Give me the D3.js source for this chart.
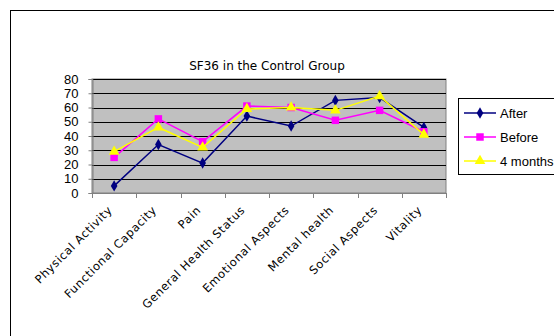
<!DOCTYPE html>
<html>
<head>
<meta charset="utf-8">
<script src="https://cdn.jsdelivr.net/npm/d3@7"></script>
<style>
  body { margin: 0; background: #fff; }
  svg { display: block; }
</style>
</head>
<body>
<svg id="chart" width="554" height="336"></svg>
<script>
// SF36 domains scored for the control group
const categories = ["Physical Activity", "Functional Capacity", "Pain", "General Health Status",
  "Emotional Aspects", "Mental health", "Social Aspects", "Vitality"];
const afterValues = [5, 34, 21, 54, 47, 65, 67, 46];
const beforeValues = [25, 52, 36, 61, 60, 51, 58, 43];
const fourMonthValues = [29, 46, 32, 59, 60, 58, 68, 41];
const yTicks = [0, 10, 20, 30, 40, 50, 60, 70, 80];
const seriesNames = ["After", "Before", "4 months"];

const series = [
  { name: seriesNames[0], values: afterValues, color: "#000080", symbol: d3.symbolDiamond, size: 38 },
  { name: seriesNames[1], values: beforeValues, color: "#ff00ff", symbol: d3.symbolSquare, size: 56 },
  { name: seriesNames[2], values: fourMonthValues, color: "#ffff00", symbol: d3.symbolTriangle, size: 50 }
];

const svg = d3.select("#chart");
const plot = { left: 92, right: 446, top: 79, bottom: 193 };

// outer chart frame
svg.append("rect")
  .attr("x", 10.5).attr("y", 10.5)
  .attr("width", 560).attr("height", 340)
  .attr("fill", "#fff").attr("stroke", "#000").attr("stroke-width", 1);

svg.append("text")
  .attr("x", 267).attr("y", 70)
  .attr("text-anchor", "middle")
  .attr("font-family", "DejaVu Sans")
  .attr("font-size", 12)
  .text("SF36 in the Control Group");

const x = d3.scaleBand().domain(categories).range([plot.left, plot.right]);
const y = d3.scaleLinear().domain([0, 80]).range([plot.bottom, plot.top]);

// plot background
svg.append("rect")
  .attr("x", plot.left).attr("y", plot.top)
  .attr("width", plot.right - plot.left).attr("height", plot.bottom - plot.top)
  .attr("fill", "#c0c0c0").attr("stroke", "#808080");

// horizontal gridlines
svg.append("g").selectAll("line").data(yTicks.filter(t => t > 0)).join("line")
  .attr("x1", plot.left).attr("x2", plot.right)
  .attr("y1", d => Math.round(y(d)) + 0.5).attr("y2", d => Math.round(y(d)) + 0.5)
  .attr("stroke", "#000").attr("stroke-width", 1);

// y axis
const yAxis = svg.append("g")
  .attr("transform", `translate(${plot.left + 0.5},0)`)
  .call(d3.axisLeft(y).tickValues(yTicks).tickSize(4).tickPadding(10));
yAxis.select(".domain").attr("stroke", "#808080");
yAxis.selectAll(".tick line").attr("stroke", "#808080");
yAxis.selectAll("text")
  .attr("font-family", "Liberation Sans, Arial")
  .attr("font-size", 13)
  .attr("fill", "#000");

// x axis: ticks at category boundaries
const bounds = d3.range(categories.length + 1).map(i => plot.left + i * x.step());
const xAxis = svg.append("g");
xAxis.append("line")
  .attr("x1", plot.left).attr("x2", plot.right)
  .attr("y1", plot.bottom + 0.5).attr("y2", plot.bottom + 0.5)
  .attr("stroke", "#808080");
xAxis.selectAll(".bt").data(bounds).join("line")
  .attr("x1", d => Math.round(d) + 0.5).attr("x2", d => Math.round(d) + 0.5)
  .attr("y1", plot.bottom).attr("y2", plot.bottom + 5)
  .attr("stroke", "#808080");
xAxis.selectAll("text").data(categories).join("text")
  .attr("transform", d => `translate(${x(d) + x.bandwidth() / 2 - 4},${plot.bottom + 15}) rotate(-45)`)
  .attr("text-anchor", "end")
  .attr("dy", "0.35em")
  .attr("font-family", "DejaVu Sans")
  .attr("font-size", 11.5)
  .attr("letter-spacing", 0.6)
  .text(d => d);

// series lines and markers
const cx = i => x(categories[i]) + x.bandwidth() / 2;
const line = d3.line().x((d, i) => cx(i)).y(d => y(d));
series.forEach(s => {
  svg.append("path")
    .datum(s.values)
    .attr("d", line)
    .attr("fill", "none")
    .attr("stroke", s.color)
    .attr("stroke-width", 1.5);
  svg.append("g").selectAll("path").data(s.values).join("path")
    .attr("transform", (d, i) => `translate(${cx(i)},${y(d)})`)
    .attr("d", d3.symbol().type(s.symbol).size(s.size))
    .attr("fill", s.color);
});

// legend
const legend = svg.append("g");
legend.append("rect")
  .attr("x", 458.5).attr("y", 98.5)
  .attr("width", 110).attr("height", 76)
  .attr("fill", "#fff").attr("stroke", "#000");
series.forEach((s, i) => {
  const ly = 113 + i * 24;
  legend.append("line")
    .attr("x1", 464).attr("x2", 496).attr("y1", ly).attr("y2", ly)
    .attr("stroke", s.color).attr("stroke-width", 1.5);
  legend.append("path")
    .attr("transform", `translate(480,${ly})`)
    .attr("d", d3.symbol().type(s.symbol).size(s.size))
    .attr("fill", s.color);
  legend.append("text")
    .attr("x", 500).attr("y", ly).attr("dy", "0.35em")
    .attr("font-family", "Liberation Sans, Arial")
    .attr("font-size", 13)
    .text(s.name);
});
</script>
</body>
</html>
